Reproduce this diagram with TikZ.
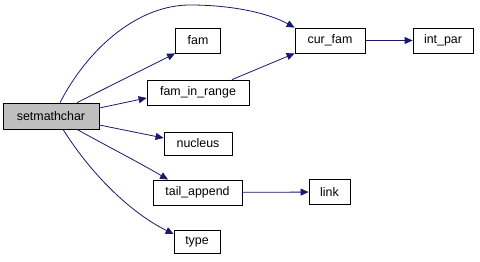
\documentclass[tikz,border=0pt]{standalone}
\usepackage{fontspec}
\setmainfont{Liberation Sans}
\usetikzlibrary{arrows.meta}
\definecolor{edgeblue}{HTML}{191970}
\definecolor{rootfill}{HTML}{BFBFBF}
\tikzset{
  fn/.style={draw=black, line width=0.8pt, fill=white, rectangle, inner sep=0pt,
    minimum height=25pt, font=\fontsize{12.4}{14}\selectfont},
  call/.style={draw=edgeblue, line width=0.8pt,
    -{Triangle[length=8pt,width=7pt]}},
}
\begin{document}
\begin{tikzpicture}[x=1pt,y=-1pt]
\useasboundingbox (0,0) rectangle (480,262);
\node[fn, fill=rootfill, minimum width=96pt, minimum height=26pt] (smc) at (51,116) {setmathchar};
\node[fn, minimum width=45pt] (fam) at (198,40.5) {fam};
\node[fn, minimum width=102pt] (fir) at (198,92.5) {fam\_in\_range};
\node[fn, minimum width=68pt, minimum height=23pt] (nuc) at (198,143.5) {nucleus};
\node[fn, minimum width=89pt] (tail) at (197.5,192.5) {tail\_append};
\node[fn, minimum width=46pt, minimum height=23pt] (type) at (197,242) {type};
\node[fn, minimum width=70pt] (cur) at (330,40.5) {cur\_fam};
\node[fn, minimum width=60pt] (ip) at (443,40.5) {int\_par};
\node[fn, minimum width=41pt] (link) at (329.5,192) {link};

\coordinate (smcA) at (smc.north -| 60,0);
\coordinate (smcB) at (smc.north -| 77,0);
\coordinate (smcC) at (smc.east |- 0,108);
\coordinate (smcD) at (smc.east |- 0,125);
\coordinate (smcE) at (smc.south -| 77,0);
\coordinate (smcF) at (smc.south -| 63,0);
\coordinate (firA) at (fir.north -| 232,0);

\draw[call] (smcA) .. controls (90,45) and (140,5) .. (190,5)
  .. controls (235,5) and (270,14) .. (cur.north west);
\draw[call] (smcB) -- (fam.south west);
\draw[call] (smcC) -- (fir.west |- 0,98);
\draw[call] (smcD) -- (nuc.west |- 0,138);
\draw[call] (smcE) .. controls (105,145) and (140,163) .. (tail.north -| 168,0);
\draw[call] (smcF) .. controls (95,180) and (135,215) .. (type.north west |- 0,234);
\draw[call] (firA) -- (cur.south west);
\draw[call] (cur) -- (ip);
\draw[call] (tail) -- (link);
\end{tikzpicture}
\end{document}
